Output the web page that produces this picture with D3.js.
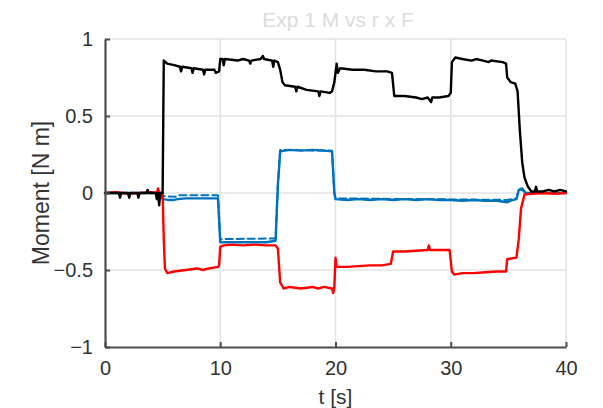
<!DOCTYPE html>
<html lang="en">
<head>
  <meta charset="UTF-8" />
  <title>Exp 1 M vs r x F</title>
  <script src="https://d3js.org/d3.v7.min.js"></script>
  <style>
    html, body {
      margin: 0;
      padding: 0;
      background: #fff;
      font-family: "Liberation Sans", Arial, sans-serif;
    }
    svg {
      display: block;
    }
  </style>
</head>
<body>
<svg id="chart" width="603" height="408"></svg>
<script>
  // time [s] and moment [N m]
  const xTicks = [0, 10, 20, 30, 40];
  const yTicks = [-1, -0.5, 0, 0.5, 1];

  const blackSeries = [
    [0, 0], [1.2, 0], [1.3, -0.03], [1.4, 0], [2.0, 0], [2.1, -0.03], [2.2, 0], [2.8, 0], [2.9, -0.03],
    [3.0, 0], [3.6, 0], [3.7, 0.02], [3.8, 0], [4.4, 0], [4.5, -0.04], [4.6, 0], [4.7, -0.08], [4.8, 0],
    [5.0, 0], [5.1, 0.86], [5.4, 0.84], [6.0, 0.83], [6.5, 0.82], [6.6, 0.79], [6.7, 0.82], [7.5, 0.81],
    [7.6, 0.78], [7.7, 0.81], [8.5, 0.80], [8.6, 0.77], [8.7, 0.80], [9.5, 0.80], [9.6, 0.78], [9.9, 0.79],
    [10.0, 0.87], [10.2, 0.87], [10.3, 0.83], [10.4, 0.87], [11.5, 0.86], [12.0, 0.87], [12.5, 0.86],
    [12.6, 0.84], [12.7, 0.86], [13.5, 0.87], [13.7, 0.89], [13.8, 0.87], [14.5, 0.86], [14.6, 0.82],
    [14.7, 0.86], [15.0, 0.85], [15.2, 0.80], [15.4, 0.72], [15.6, 0.70], [16.5, 0.69], [16.6, 0.66],
    [16.7, 0.69], [17.5, 0.67], [18.5, 0.66], [18.6, 0.63], [18.7, 0.66], [19.5, 0.65], [19.7, 0.66],
    [19.9, 0.72], [20.0, 0.78], [20.1, 0.84], [20.2, 0.78], [20.4, 0.81], [21.5, 0.80], [22.5, 0.80],
    [23.5, 0.79], [24.5, 0.79], [24.9, 0.78], [25.1, 0.63], [26.0, 0.63], [27.0, 0.62], [27.5, 0.61],
    [28.0, 0.62], [28.3, 0.59], [28.4, 0.62], [29.0, 0.62], [29.8, 0.63], [30.0, 0.65], [30.1, 0.85],
    [30.4, 0.88], [31.0, 0.87], [31.8, 0.86], [32.2, 0.87], [32.8, 0.86], [33.3, 0.85], [33.5, 0.86],
    [34.5, 0.85], [34.8, 0.84], [34.9, 0.75], [35.2, 0.72], [35.6, 0.71], [35.8, 0.66], [36.0, 0.40],
    [36.2, 0.20], [36.4, 0.10], [36.7, 0.04], [37.0, 0.01], [37.3, 0.01], [37.4, 0.04], [37.5, 0.01],
    [38.0, 0.01], [38.5, 0.02], [39.0, 0.01], [39.5, 0.02], [40.0, 0.01]
  ];

  const redSeries = [
    [0, 0], [1, 0.005], [2, -0.005], [3, 0], [4, 0.005], [4.5, 0], [4.6, 0.03], [4.7, 0], [5.0, 0],
    [5.1, -0.3], [5.2, -0.49], [5.4, -0.52], [6, -0.51], [7, -0.50], [8, -0.49], [8.5, -0.50], [9, -0.49],
    [9.8, -0.48], [9.9, -0.47], [10.0, -0.35], [10.3, -0.34], [11, -0.335], [12, -0.34], [13, -0.335],
    [14, -0.34], [14.8, -0.34], [15.0, -0.36], [15.2, -0.58], [15.5, -0.62], [16, -0.61], [17, -0.62],
    [18, -0.61], [18.5, -0.62], [19, -0.61], [19.7, -0.62], [19.8, -0.65], [19.9, -0.61], [20.0, -0.42],
    [20.1, -0.48], [21, -0.48], [22, -0.475], [23, -0.47], [24, -0.47], [24.8, -0.46], [25.0, -0.38],
    [26, -0.38], [27, -0.375], [28, -0.37], [28.1, -0.34], [28.2, -0.37], [29, -0.37], [29.9, -0.37],
    [30.1, -0.51], [30.3, -0.53], [31, -0.52], [32, -0.52], [33, -0.515], [34, -0.51], [34.8, -0.51],
    [34.9, -0.43], [35.7, -0.42], [35.9, -0.3], [36.1, -0.1], [36.4, -0.01], [37, -0.005], [38, 0],
    [39, -0.005], [40, 0]
  ];

  const blueSeries = [
    [0, 0], [4.9, 0], [5.0, -0.04], [5.5, -0.045], [6, -0.045], [6.3, -0.04], [7, -0.035], [8, -0.035],
    [9, -0.035], [9.8, -0.035], [10.0, -0.32], [11, -0.32], [12, -0.32], [13, -0.32], [14, -0.32],
    [14.8, -0.31], [15.0, 0.05], [15.2, 0.27], [16, 0.28], [17, 0.275], [18, 0.28], [19, 0.275],
    [19.7, 0.27], [19.9, 0.0], [20.0, -0.04], [21, -0.045], [22, -0.04], [23, -0.045], [24, -0.04],
    [25, -0.045], [26, -0.04], [27, -0.045], [28, -0.04], [29, -0.045], [30, -0.045], [31, -0.05],
    [32, -0.045], [33, -0.05], [34, -0.05], [34.9, -0.06], [35.2, -0.05], [35.7, -0.04], [35.9, 0.02],
    [36.2, 0.03], [36.5, 0.0], [37, 0.0], [40, 0]
  ];

  const blueDashedSeries = [
    [0, 0], [4.9, 0], [5.0, -0.02], [6.2, -0.025], [6.4, -0.015], [9.8, -0.015], [10.0, -0.30],
    [14.8, -0.295], [15.0, 0.05], [15.2, 0.28], [19.7, 0.275], [19.9, 0.0], [20.0, -0.035],
    [34.9, -0.045], [35.7, -0.035], [35.9, 0.02], [36.2, 0.02], [36.5, 0.0], [40, 0]
  ];

  const W = 603, H = 408;
  const margin = { top: 39, right: 37, bottom: 61, left: 105 };
  const svg = d3.select("#chart");

  const x = d3.scaleLinear().domain([0, 40]).range([margin.left, W - margin.right]);
  const y = d3.scaleLinear().domain([-1, 1]).range([H - margin.bottom, margin.top]);

  // grid
  const grid = svg.append("g").attr("stroke", "#e3e3e3").attr("stroke-width", 1.5);
  grid.selectAll(".gx").data(xTicks.slice(1)).join("line")
    .attr("x1", d => x(d)).attr("x2", d => x(d))
    .attr("y1", y(-1)).attr("y2", y(1));
  grid.selectAll(".gy").data(yTicks.slice(1)).join("line")
    .attr("x1", x(0)).attr("x2", x(40))
    .attr("y1", d => y(d)).attr("y2", d => y(d));

  // lines
  const line = d3.line().x(d => x(d[0])).y(d => y(d[1]));
  const plot = svg.append("g").attr("fill", "none")
    .attr("stroke-linejoin", "round").attr("stroke-linecap", "round");

  plot.append("path").datum(blueDashedSeries).attr("d", line)
    .attr("stroke", "#0072bd").attr("stroke-width", 2).attr("stroke-dasharray", "7,4");
  plot.append("path").datum(blueSeries).attr("d", line)
    .attr("stroke", "#0072bd").attr("stroke-width", 2.4);
  plot.append("path").datum(redSeries).attr("d", line)
    .attr("stroke", "#ff0000").attr("stroke-width", 2.4);
  plot.append("path").datum(blackSeries).attr("d", line)
    .attr("stroke", "#000").attr("stroke-width", 2.4);

  // axes
  const axisColor = "#4d4d4d";
  const xAxis = svg.append("g")
    .attr("transform", `translate(0,${y(-1)})`)
    .call(d3.axisBottom(x).tickValues(xTicks).tickSizeInner(-5).tickSizeOuter(0).tickPadding(12));
  const yAxis = svg.append("g")
    .attr("transform", `translate(${x(0)},0)`)
    .call(d3.axisLeft(y).tickValues(yTicks).tickSizeInner(-5).tickSizeOuter(0).tickPadding(12)
      .tickFormat(d3.format("")));

  [xAxis, yAxis].forEach(a => {
    a.select(".domain").attr("stroke", axisColor).attr("stroke-width", 2.2);
    a.selectAll(".tick line").attr("stroke", axisColor).attr("stroke-width", 2);
    a.selectAll(".tick text")
      .attr("fill", "#333")
      .style("font-family", "'Liberation Sans', Arial, sans-serif")
      .style("font-size", "20px");
  });
  xAxis.selectAll(".tick text").attr("dy", "0.71em").attr("y", 14);
  yAxis.selectAll(".tick text").attr("x", -12);

  // labels
  svg.append("text")
    .attr("x", 338).attr("y", 27)
    .attr("text-anchor", "middle")
    .attr("fill", "#dcdcdc")
    .style("font-size", "21px")
    .text("Exp 1 M vs r x F");

  svg.append("text")
    .attr("x", x(20)).attr("y", 404)
    .attr("text-anchor", "middle")
    .attr("fill", "#333")
    .style("font-size", "21px")
    .text("t [s]");

  svg.append("text")
    .attr("transform", `translate(49,${y(0)}) rotate(-90)`)
    .attr("text-anchor", "middle")
    .attr("fill", "#333")
    .style("font-size", "23px")
    .text("Moment [N m]");
</script>
</body>
</html>
